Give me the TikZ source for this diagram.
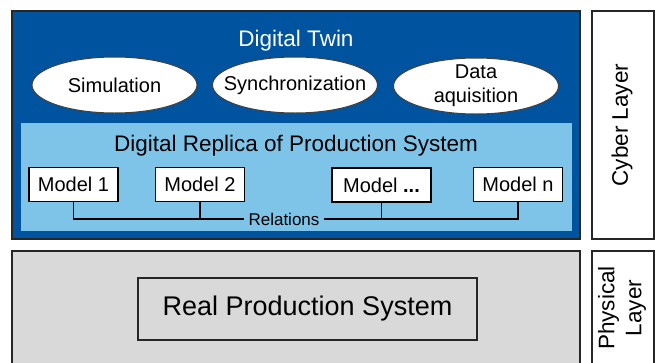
\documentclass[tikz,border=0pt]{standalone}
\usepackage{fontspec}
\setmainfont{Liberation Sans}
\usetikzlibrary{shapes.geometric}
\definecolor{twinblue}{RGB}{0,83,159}
\definecolor{replicablue}{RGB}{126,195,232}
\definecolor{physgray}{RGB}{217,217,217}
\tikzset{
  task/.style = {ellipse, draw=black!75, fill=white, line width=1pt,
                 minimum width=165pt, minimum height=56pt,
                 inner xsep=-16pt, inner ysep=-3pt,
                 align=center, font=\fontsize{20}{24}\selectfont},
  model/.style = {rectangle, draw=black, fill=white, line width=1.5pt,
                  minimum height=34pt, inner xsep=9pt, inner ysep=0pt,
                  font=\fontsize{20}{24}\selectfont},
  layer/.style = {draw=black!85, line width=1.5pt, fill=white},
  relation/.style = {draw=black, line width=1.3pt}
}

\begin{document}
\begin{tikzpicture}[x=1pt,y=-1pt]
	\useasboundingbox (0,0) rectangle (655,362);
	\def \big{\fontsize{22.5}{27}\selectfont}
	
	% Cyber layer
	\draw[fill=twinblue, draw=black!85, line width=2pt] (12,11) rectangle (580,239);
	\fill[replicablue] (21,123) rectangle (572,231);
	\draw[layer] (592,11) rectangle (654,239);
	\node[rotate=90, font=\big] (cyber) at (622,125) {Cyber Layer};
	
	% Physical layer
	\draw[fill=physgray, draw=black!85, line width=1.5pt] (12,251) rectangle (580,370);
	\draw[layer] (592,251) rectangle (654,370);
	\node[rotate=90, align=center, font=\big] (physical) at (622,308) {Physical\\Layer};
	\node[draw=black!85, line width=1.5pt, minimum width=339pt, minimum height=62pt,
	      font=\fontsize{27}{30}\selectfont] (real) at (307.5,309) {Real Production System};
	
	% Digital twin
	\node[text=white, font=\big] (twin) at (296,41) {Digital Twin};
	\node[task] (sim) at (114.5,85) {Simulation};
	\node[task] (sync) at (295,85) {Synchronization};
	\node[task] (data) at (476,86) {Data\\aquisition};
	
	% Digital replica
	\node[font=\big] (replica) at (296,146) {Digital Replica of Production System};
	\node[model] (m1) at (73.5,184.5) {Model 1};
	\node[model] (m2) at (200,184.5) {Model 2};
	\node[model, inner xsep=11pt] (md) at (381.5,185) {Model \textbf{...}};
	\node[model] (mn) at (518,184.5) {Model n};
	
	% Relations
	\node[inner xsep=4pt, inner ysep=0pt, font=\fontsize{17}{20}\selectfont] (rel) at (284,219) {Relations};
	\draw[relation] (m1.south) |- (rel.west);
	\draw[relation, line width=2.2pt] (m2.south) -- (m2.south |- rel.west);
	\draw[relation] (rel.east) -| (mn.south);
	\draw[relation] (md.south) -- (md.south |- rel.east);
	
\end{tikzpicture}
\end{document}
